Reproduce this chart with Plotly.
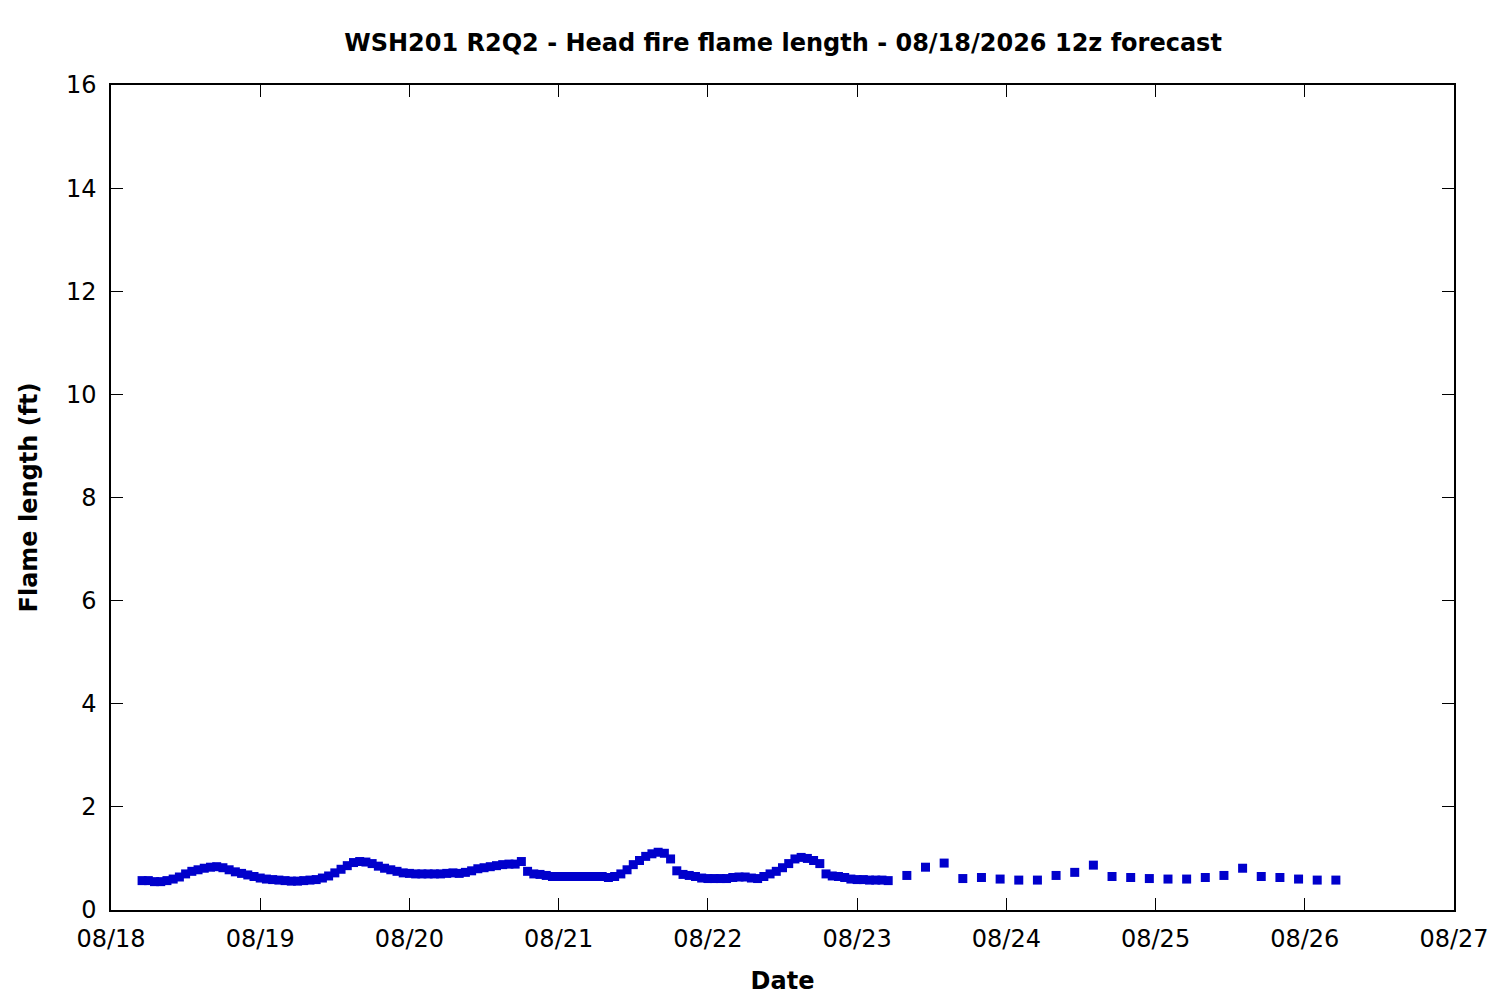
import pandas as pd
import plotly.graph_objects as go

# hourly forecast 08/18 05:00 .. 08/23 05:00
hourly_start = "2026-08-18 05:00"
hourly_flame = [
    0.57, 0.57, 0.55, 0.55, 0.57, 0.60, 0.64, 0.70, 0.75, 0.78,
    0.81, 0.83, 0.84, 0.82, 0.78, 0.74, 0.71, 0.68, 0.65, 0.62,
    0.60, 0.59, 0.58, 0.57, 0.56, 0.56, 0.57, 0.58, 0.59, 0.62,
    0.66, 0.72, 0.79, 0.86, 0.92, 0.94, 0.93, 0.90, 0.85, 0.81,
    0.78, 0.75, 0.72, 0.71, 0.70, 0.70, 0.70, 0.70, 0.70, 0.71,
    0.72, 0.71, 0.73, 0.76, 0.80, 0.82, 0.84, 0.86, 0.88, 0.89,
    0.89, 0.94, 0.75, 0.70, 0.69, 0.67, 0.65, 0.65, 0.65, 0.65,
    0.65, 0.65, 0.65, 0.65, 0.65, 0.63, 0.65, 0.70, 0.78, 0.88,
    0.96, 1.04, 1.09, 1.12, 1.10, 0.99, 0.76, 0.69, 0.67, 0.65,
    0.62, 0.61, 0.61, 0.61, 0.61, 0.63, 0.64, 0.64, 0.62, 0.61,
    0.65, 0.70, 0.75, 0.82, 0.90, 0.99, 1.02, 1.00, 0.96, 0.90,
    0.70, 0.66, 0.65, 0.63, 0.60, 0.59, 0.59, 0.58, 0.58, 0.58,
    0.57,
]

# 3-hourly forecast 08/23 08:00 onward
three_hourly_start = "2026-08-23 08:00"
three_hourly_flame = [
    0.67, 0.83, 0.91, 0.61, 0.63, 0.60, 0.58, 0.58, 0.67, 0.73,
    0.87, 0.65, 0.63, 0.61, 0.60, 0.60, 0.63, 0.67, 0.81, 0.65,
    0.63, 0.60, 0.58, 0.58,
]

times = list(pd.date_range(hourly_start, periods=len(hourly_flame), freq="h")) + \
    list(pd.date_range(three_hourly_start, periods=len(three_hourly_flame), freq="3h"))
flame = hourly_flame + three_hourly_flame

fig = go.Figure()
fig.add_trace(go.Scatter(
    x=times, y=flame,
    mode="markers",
    marker=dict(symbol="square", size=9, color="#0000CC", line=dict(width=0)),
    showlegend=False,
))

axis_font = dict(family="DejaVu Sans", size=24, color="black")

fig.update_layout(
    width=1500, height=1000,
    margin=dict(l=103, r=54, t=77, b=98),
    plot_bgcolor="white",
    paper_bgcolor="white",
    font=axis_font,
    title=dict(
        text="<b>WSH201 R2Q2 - Head fire flame length - 08/18/2026 12z forecast</b>",
        x=0.5167, xanchor="center", y=0.965, yanchor="middle",
        font=dict(family="DejaVu Sans", size=24, color="black"),
    ),
    xaxis=dict(
        type="date",
        range=["2026-08-18", "2026-08-27"],
        dtick=86400000,
        tick0="2026-08-18",
        tickformat="%m/%d",
        ticks="inside", ticklen=12, tickcolor="black",
        showline=True, linecolor="black", linewidth=1.5, mirror="ticks",
        showgrid=False, zeroline=False,
        title=dict(text="<b>Date</b>", font=axis_font, standoff=21),
        tickfont=axis_font,
        ticklabelstandoff=6,
    ),
    yaxis=dict(
        range=[0, 16], dtick=2,
        ticks="inside", ticklen=12, tickcolor="black",
        showline=True, linecolor="black", linewidth=1.5, mirror="ticks",
        showgrid=False, zeroline=False,
        title=dict(text="<b>Flame length (ft)</b>", font=axis_font, standoff=22),
        tickfont=axis_font,
        ticklabelstandoff=8,
    ),
)

fig.write_html("out.html")
